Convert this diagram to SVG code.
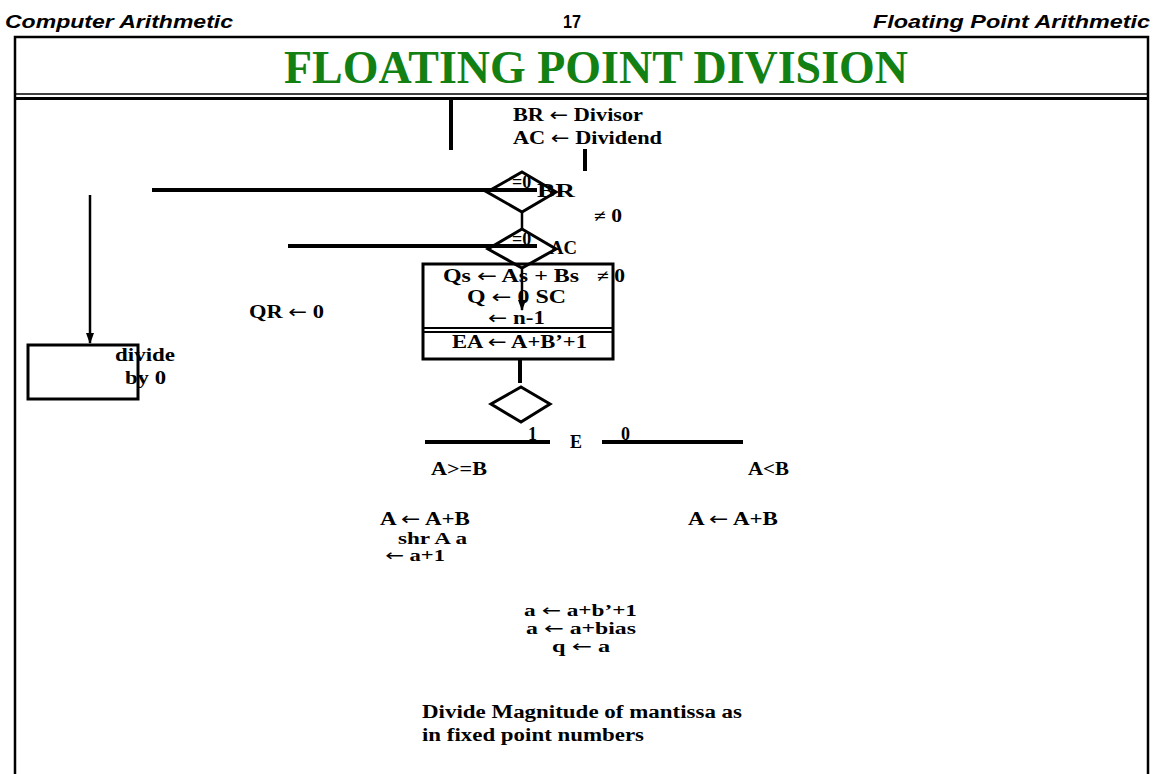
<svg xmlns="http://www.w3.org/2000/svg" width="1154" height="774" viewBox="0 0 1154 774">
<style>
.hdr{font-family:"Liberation Sans",Arial,sans-serif;font-weight:bold;font-style:italic;font-size:19px;fill:#000}
.num{font-family:"Liberation Sans",Arial,sans-serif;font-weight:bold;font-size:19px;fill:#000}
.t{font-family:"Liberation Serif","Times New Roman",serif;font-weight:bold;font-size:18px;fill:#000}
.s{font-size:16px}
.ar{font-family:"DejaVu Sans",sans-serif;font-weight:normal}
.ln{stroke:#000;stroke-width:4;fill:none}
.thin{stroke:#000;stroke-width:2.5;fill:none}
.shape{stroke:#000;stroke-width:3;fill:none}
</style>
<defs>
<marker id="ah" markerWidth="12" markerHeight="10" refX="10" refY="5" orient="auto" markerUnits="userSpaceOnUse" viewBox="0 0 12 10">
<path d="M0,1 L11,5 L0,9 Z" fill="#000"/>
</marker>
</defs>
<rect width="1154" height="774" fill="#fff"/>
<g id="header">
<text class="hdr" x="5" y="28" textLength="228" lengthAdjust="spacingAndGlyphs">Computer Arithmetic</text>
<text class="num" x="563" y="28" textLength="18" lengthAdjust="spacingAndGlyphs">17</text>
<text class="hdr" x="873" y="28" textLength="277" lengthAdjust="spacingAndGlyphs">Floating Point Arithmetic</text>
</g>
<g id="frame">
<path d="M15,774 V37 H1148 V774" stroke="#000" stroke-width="2.5" fill="none"/>
<line x1="14" y1="94" x2="1149" y2="94" stroke="#000" stroke-width="1.5"/>
<line x1="14" y1="98.5" x2="1149" y2="98.5" stroke="#000" stroke-width="3"/>
<text x="284" y="83" font-family="Liberation Serif,'Times New Roman',serif" font-weight="bold" font-size="46" fill="#128012" textLength="624" lengthAdjust="spacingAndGlyphs">FLOATING POINT DIVISION</text>
</g>
<g id="connectors">
<line class="ln" x1="451" y1="100" x2="451" y2="150"/>
<line class="ln" x1="585" y1="149" x2="585" y2="171"/>
<line class="ln" x1="152" y1="190" x2="537" y2="190"/>
<line class="thin" x1="522" y1="212" x2="522" y2="229"/>
<line class="ln" x1="288" y1="246" x2="537" y2="246"/>
<line class="thin" x1="522" y1="268" x2="522" y2="310" marker-end="url(#ah)"/>
<line class="ln" x1="520" y1="360" x2="520" y2="383"/>
<line class="ln" x1="425" y1="442" x2="550" y2="442"/>
<line class="ln" x1="602" y1="442" x2="743" y2="442"/>
<line class="thin" x1="90" y1="195" x2="90" y2="343" marker-end="url(#ah)"/>
</g>
<g id="start">
<text class="t" x="513" y="121" textLength="130" lengthAdjust="spacingAndGlyphs">BR <tspan class="ar">←</tspan> Divisor</text>
<text class="t" x="513" y="144" textLength="149" lengthAdjust="spacingAndGlyphs">AC <tspan class="ar">←</tspan> Dividend</text>
</g>
<g id="diamond-br">
<polygon class="shape" points="522,172 556,192 522,212 487,192"/>
<text class="t" x="512" y="188">=0</text>
<text class="t" x="537" y="197" textLength="38" lengthAdjust="spacingAndGlyphs">BR</text>
<text class="t" x="594" y="222" textLength="28" lengthAdjust="spacingAndGlyphs">≠ 0</text>
</g>
<g id="diamond-ac">
<polygon class="shape" points="522,229 556,249 522,268 488,249"/>
<text class="t" x="512" y="245">=0</text>
<text class="t" x="550" y="254" textLength="27" lengthAdjust="spacingAndGlyphs">AC</text>
</g>
<g id="init-box">
<rect class="shape" x="423" y="264" width="190" height="95"/>
<line x1="423" y1="328" x2="613" y2="328" stroke="#000" stroke-width="2"/>
<line x1="423" y1="332" x2="613" y2="332" stroke="#000" stroke-width="2"/>
<text class="t" x="443" y="282" textLength="136" lengthAdjust="spacingAndGlyphs">Qs <tspan class="ar">←</tspan> As + Bs</text>
<text class="t" x="597" y="282" textLength="28" lengthAdjust="spacingAndGlyphs">≠ 0</text>
<text class="t" x="467" y="303" textLength="99" lengthAdjust="spacingAndGlyphs">Q <tspan class="ar">←</tspan> 0  SC</text>
<text class="t" x="488" y="324" textLength="57" lengthAdjust="spacingAndGlyphs"><tspan class="ar">←</tspan> n-1</text>
<text class="t" x="452" y="348" textLength="135" lengthAdjust="spacingAndGlyphs">EA <tspan class="ar">←</tspan> A+B’+1</text>
</g>
<g id="qr">
<text class="t" x="249" y="318" textLength="75" lengthAdjust="spacingAndGlyphs">QR <tspan class="ar">←</tspan> 0</text>
</g>
<g id="divide-by-zero">
<rect class="shape" x="28" y="345" width="110" height="54"/>
<text class="t" x="115" y="361" textLength="60" lengthAdjust="spacingAndGlyphs">divide</text>
<text class="t" x="125" y="384" textLength="41" lengthAdjust="spacingAndGlyphs">by 0</text>
</g>
<g id="diamond-e">
<polygon class="shape" points="521,387 550,404 521,422 491,404"/>
<text class="t" x="528" y="440">1</text>
<text class="t" x="570" y="448">E</text>
<text class="t" x="621" y="440">0</text>
</g>
<g id="branch-ge">
<text class="t" x="431" y="475" textLength="56" lengthAdjust="spacingAndGlyphs">A&gt;=B</text>
<text class="t" x="380" y="525" textLength="90" lengthAdjust="spacingAndGlyphs">A <tspan class="ar">←</tspan> A+B</text>
<text class="t s" x="398" y="544" textLength="69" lengthAdjust="spacingAndGlyphs">shr A a</text>
<text class="t s" x="385" y="561" textLength="60" lengthAdjust="spacingAndGlyphs"><tspan class="ar">←</tspan> a+1</text>
</g>
<g id="branch-lt">
<text class="t" x="748" y="475" textLength="41" lengthAdjust="spacingAndGlyphs">A&lt;B</text>
<text class="t" x="688" y="525" textLength="90" lengthAdjust="spacingAndGlyphs">A <tspan class="ar">←</tspan> A+B</text>
</g>
<g id="exponent">
<text class="t s" x="524" y="616" textLength="113" lengthAdjust="spacingAndGlyphs">a <tspan class="ar">←</tspan> a+b’+1</text>
<text class="t s" x="526" y="634" textLength="110" lengthAdjust="spacingAndGlyphs">a <tspan class="ar">←</tspan> a+bias</text>
<text class="t s" x="552" y="652" textLength="58" lengthAdjust="spacingAndGlyphs">q <tspan class="ar">←</tspan> a</text>
</g>
<g id="note">
<text class="t" x="422" y="718" textLength="320" lengthAdjust="spacingAndGlyphs">Divide Magnitude of mantissa as</text>
<text class="t" x="422" y="741" textLength="222" lengthAdjust="spacingAndGlyphs">in fixed point numbers</text>
</g>
</svg>
